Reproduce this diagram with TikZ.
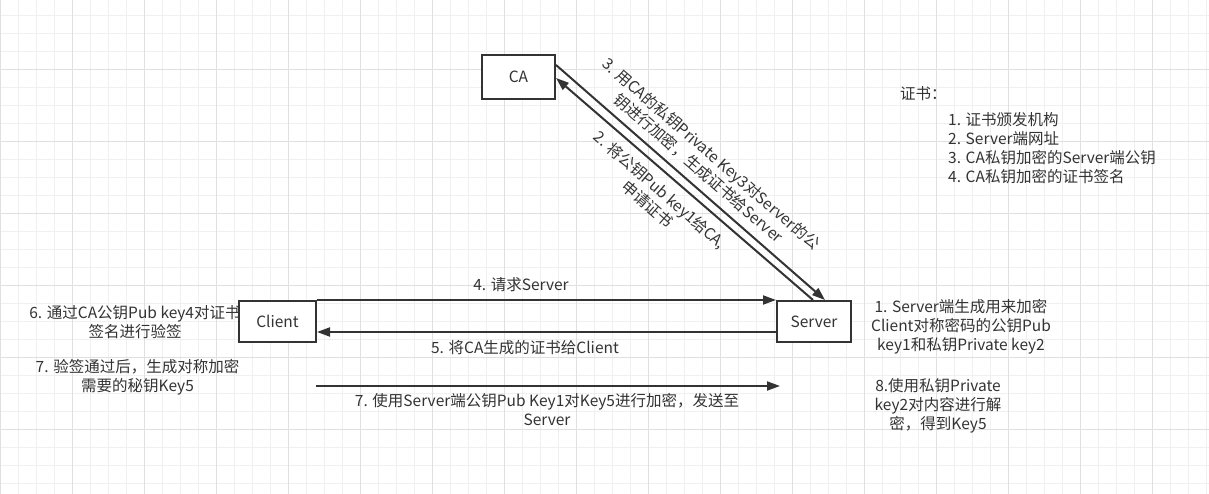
\documentclass[tikz,border=0pt]{standalone}
\usepackage{fontspec}
\newfontfamily\cjk{Noto Sans CJK SC}
\usetikzlibrary{arrows.meta}
\definecolor{ink}{HTML}{333333}
\definecolor{gminor}{HTML}{F0F0F0}
\definecolor{gmajor}{HTML}{E0E0E0}
\begin{document}
\begin{tikzpicture}[x=1pt,y=-1pt,
  txt/.style={font=\cjk\fontsize{15.5}{19}\selectfont, text=ink},
  box/.style={txt, draw=ink, line width=2pt, fill=white, inner sep=0pt},
  lbl/.style={txt, inner sep=0pt, align=center},
  arr/.style={draw=ink, line width=2pt, -{Triangle[length=13pt,width=9pt]}},
]
\fill[white] (0,0) rectangle (1209,494);
\useasboundingbox (0,0) rectangle (1209,494);
% grid
\foreach \i in {0,...,67} {\draw[gminor, line width=1pt] (0.5+18*\i,0) -- (0.5+18*\i,494);}
\foreach \i in {0,...,26} {\draw[gminor, line width=1pt] (0,15.3+18*\i) -- (1209,15.3+18*\i);}
\foreach \i in {0,...,16} {\draw[gmajor, line width=1pt] (0.5+72*\i,0) -- (0.5+72*\i,494);}
\foreach \i in {0,...,5} {\draw[gmajor, line width=1pt] (0,69.3+72*\i) -- (1209,69.3+72*\i);}

% boxes
\node[box, minimum width=73pt, minimum height=44pt] (CA) at (518.5,77) {CA};
\node[box, minimum width=74pt, minimum height=41pt] (S) at (814,321.5) {Server};
\node[box, minimum width=77pt, minimum height=41pt] (C) at (277.5,321.5) {Client};

% connectors
\draw[arr] (C.north east) -- (S.north west);
\draw[arr] ([yshift=-10.5pt]S.west) -- ([yshift=-10.5pt]C.east);
\coordinate (a7s) at (316,386);
\coordinate (a7e) at (780,386);
\draw[arr] (a7s) -- (a7e);
\draw[arr] ([yshift=12pt]CA.east) -- ([xshift=11pt]S.north);
\draw[arr] ([xshift=-1pt]S.north) -- ([yshift=-1pt]CA.east);

% labels
\node[lbl, rotate=-41] (L3) at (705,161) {3. 用CA的私钥Private Key3对Server的公\\钥进行加密，生成证书给Server};
\node[lbl, rotate=-41] (L2) at (654,197) {2. 将公钥Pub key1给CA,\\申请证书};
\node[lbl] (L4) at (521,285) {4. 请求Server};
\node[lbl] (L5) at (525,348) {5. 将CA生成的证书给Client};
\node[lbl] (L7) at (547,409.5) {7. 使用Server端公钥Pub Key1对Key5进行加密，发送至\\Server};
\node[lbl] (L6) at (135,322) {6. 通过CA公钥Pub key4对证书\\签名进行验签};
\node[lbl] (L7b) at (137.5,377) {7. 验签通过后，生成对称加密\\需要的秘钥Key5};
\node[lbl] (L1) at (961,327) {1. Server端生成用来加密\\Client对称密码的公钥Pub\\key1和私钥Private key2};
\node[lbl] (L8) at (938,405.5) {8.使用私钥Private\\key2对内容进行解\\密，得到Key5};
\node[lbl, anchor=west] (T) at (900,94) {证书：};
\node[lbl, align=left, anchor=west] (List) at (948,148) {1. 证书颁发机构\\2. Server端网址\\3. CA私钥加密的Server端公钥\\4. CA私钥加密的证书签名};
\end{tikzpicture}
\end{document}
